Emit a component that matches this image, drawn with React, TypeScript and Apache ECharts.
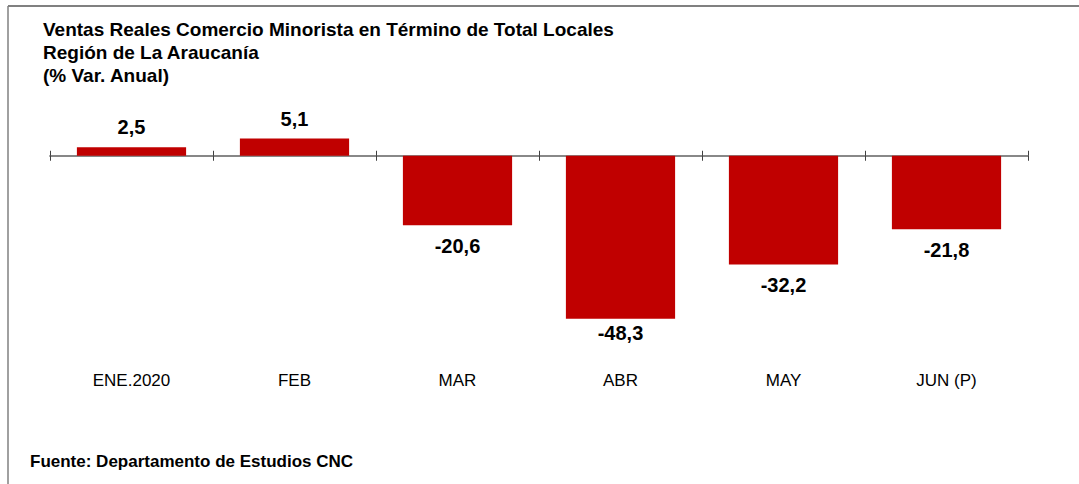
import React, { useEffect, useRef } from "react";
import * as echarts from "echarts";

const categories = ["ENE.2020", "FEB", "MAR", "ABR", "MAY", "JUN (P)"];
const values = [2.5, 5.1, -20.6, -48.3, -32.2, -21.8];
const titleLines = [
  "Ventas Reales Comercio Minorista en Término de Total Locales",
  "Región de La Araucanía",
  "(% Var. Anual)",
];
const sourceText = "Fuente: Departamento de Estudios CNC";

const fmt = (v: number) => v.toFixed(1).replace(".", ",");

export default function App() {
  const ref = useRef<HTMLDivElement>(null);
  useEffect(() => {
    if (!ref.current) return;
    const chart = echarts.init(ref.current, null, { renderer: "svg" });
    const font = "'Liberation Sans', Arial, sans-serif";
    chart.setOption({
      animation: false,
      backgroundColor: "#ffffff",
      title: {
        text: titleLines.join("\n"),
        left: 38,
        top: 13,
        textStyle: {
          fontFamily: font,
          fontWeight: "bold",
          fontSize: 19,
          lineHeight: 23,
          color: "#000",
        },
      },
      graphic: [
        {
          type: "line",
          shape: { x1: 8, y1: 6, x2: 1079, y2: 6 },
          style: { stroke: "#808080", lineWidth: 2 },
        },
        {
          type: "line",
          shape: { x1: 8, y1: 6, x2: 8, y2: 484 },
          style: { stroke: "#808080", lineWidth: 1.5 },
        },
        {
          type: "text",
          left: 30,
          top: 453,
          style: {
            text: sourceText,
            fontFamily: font,
            fontWeight: "bold",
            fontSize: 17,
            fill: "#000",
          },
        },
      ],
      grid: { left: 50, right: 51, top: 122, height: 236.25, outerBoundsMode: "none", containLabel: false },
      xAxis: [
        {
          type: "category",
          data: categories,
          position: "bottom",
          axisLine: {
            show: true,
            onZero: true,
            onZeroAxisIndex: 0,
            lineStyle: { color: "#808080", width: 1.5 },
          },
          axisTick: {
            show: true,
            inside: false,
            length: 5,
            lineStyle: { color: "#404040", width: 1 },
          },
          axisLabel: {
            margin: 14,
            fontFamily: font,
            fontSize: 17,
            color: "#000",
          },
        },
        {
          type: "category",
          data: categories,
          position: "top",
          axisLine: {
            show: true,
            onZero: true,
            onZeroAxisIndex: 1,
            lineStyle: { color: "#808080", width: 1.5 },
          },
          axisTick: {
            show: true,
            inside: false,
            length: 5,
            lineStyle: { color: "#404040", width: 1 },
          },
          axisLabel: { show: false },
        },
      ],
      yAxis: [
        { type: "value", min: -60, max: 10, show: false },
        { type: "value", min: -60, max: 10, show: false },
      ],
      series: [
        {
          type: "bar",
          xAxisIndex: 0,
          yAxisIndex: 0,
          barCategoryGap: "33%",
          data: values.map((v, i) => ({
            value: v,
            label: {
              position: v >= 0 ? "top" : "bottom",
              distance: i === 3 ? 4 : v >= 0 ? 10 : 11,
            },
          })),
          itemStyle: { color: "#C00000" },
          label: {
            show: true,
            formatter: (p: any) => fmt(p.value),
            fontFamily: font,
            fontWeight: "bold",
            fontSize: 20,
            color: "#000",
          },
        },
      ],
    });
    return () => chart.dispose();
  }, []);
  return (
    <div
      ref={ref}
      style={{ position: "fixed", left: 0, top: 0, width: 1079, height: 484, background: "#fff" }}
    />
  );
}
